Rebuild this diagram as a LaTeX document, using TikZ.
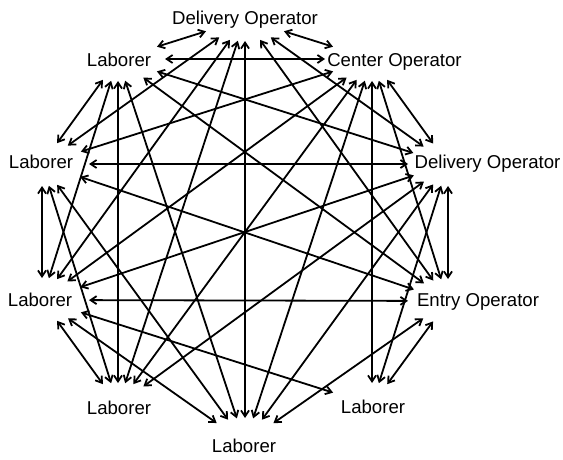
\documentclass[tikz,border=0pt]{standalone}
\usepackage{fontspec}
\setmainfont{Liberation Sans}
\usetikzlibrary{shapes.geometric,arrows.meta}
\begin{document}
\begin{tikzpicture}[x=1pt,y=-1pt,
  port/.style={ellipse,minimum width=94pt,minimum height=44pt,inner sep=0pt,outer sep=0pt},
  narrowport/.style={port,minimum width=80pt},
  lab/.style={anchor=base,inner sep=0pt,font=\fontsize{18.6}{22}\selectfont},
  link/.style={{Straight Barb[length=6pt,width=8pt]}-{Straight Barb[length=6pt,width=8pt]},line width=1.8pt}]
\useasboundingbox (0,0) rectangle (563,460);

% invisible ellipses that the connectors attach to
\node[port] (A) at (245,19) {};
\node[port] (B) at (372,59) {};
\node[narrowport] (C) at (448,164) {};
\node[narrowport] (D) at (448,301) {};
\node[port] (E) at (372,405) {};
\node[port,minimum height=50pt] (F) at (245,443) {};
\node[port] (G) at (118,405) {};
\node[port] (H) at (42,300) {};
\node[port] (I) at (42,164) {};
\node[port] (J) at (118,59) {};

% role names
\node[lab] (At) at (245,24.7) {Delivery Operator};
\node[lab] (Bt) at (394.5,66.7) {Center Operator};
\node[lab] (Ct) at (487.5,168.7) {Delivery Operator};
\node[lab] (Dt) at (478,306.7) {Entry Operator};
\node[lab] (Et) at (373,413.7) {Laborer};
\node[lab] (Ft) at (244,452.7) {Laborer};
\node[lab] (Gt) at (119,414.7) {Laborer};
\node[lab] (Ht) at (40,306.7) {Laborer};
\node[lab] (It) at (41,168.7) {Laborer};
\node[lab] (Jt) at (119,66.7) {Laborer};

% two-way links between roles
\foreach \u/\v in {A/B,A/C,A/D,A/F,A/G,A/H,A/I,A/J,
                   B/C,B/D,B/E,B/F,B/G,B/H,B/I,B/J,
                   C/D,C/E,C/F,C/G,C/H,C/I,C/J,
                   D/E,D/F,D/H,D/I,D/J,
                   E/H,
                   F/H,F/I,F/J,
                   G/H,G/I,G/J,
                   H/I,H/J,
                   I/J}
  \draw[link] (\u) -- (\v);
\end{tikzpicture}
\end{document}
